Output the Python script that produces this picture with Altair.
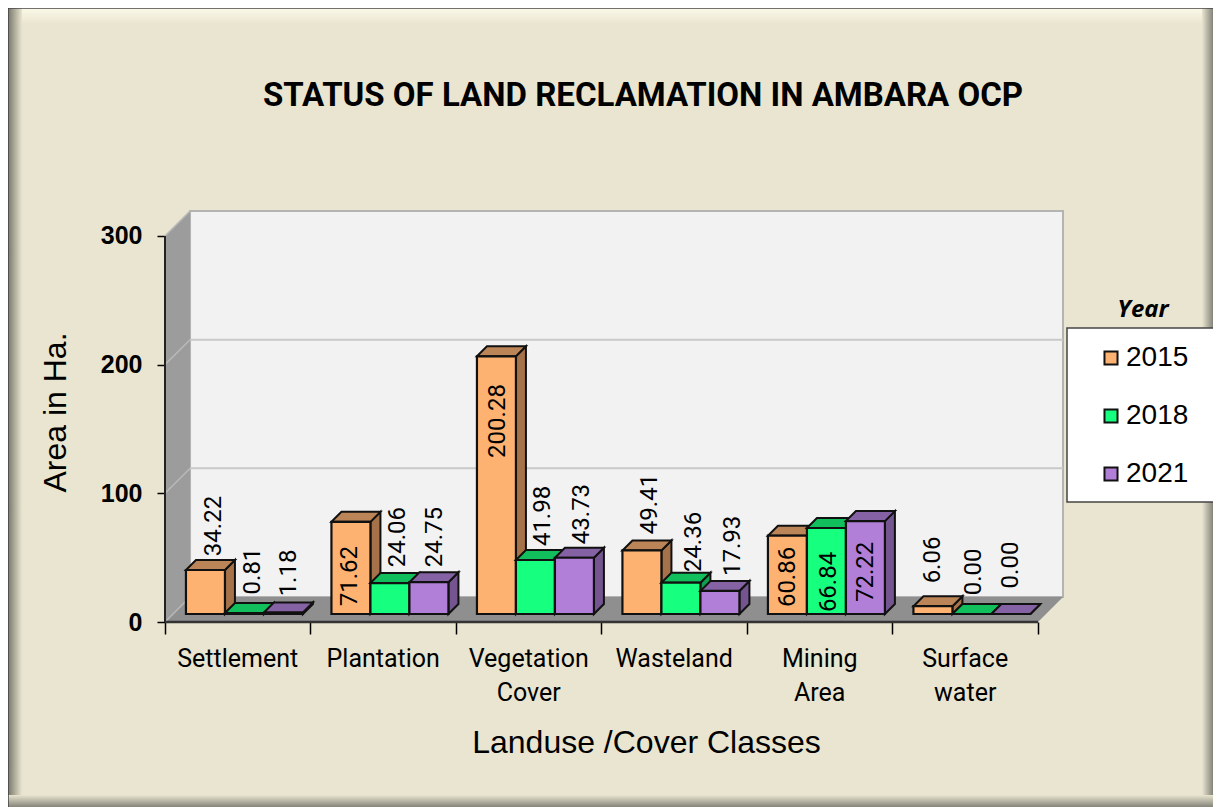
import altair as alt
import pandas as pd

categories = ["Settlement", "Plantation", "Vegetation\nCover", "Wasteland", "Mining\nArea", "Surface\nwater"]
years = ["2015", "2018", "2021"]
v2015 = [34.22, 71.62, 200.28, 49.41, 60.86, 6.06]
v2018 = [0.81, 24.06, 41.98, 24.36, 66.84, 0.00]
v2021 = [1.18, 24.75, 43.73, 17.93, 72.22, 0.00]
series = [v2015, v2018, v2021]

# label anchors in axis units
label_x = [[0.337, 1.271, 2.289, 3.333, 4.282, 5.278],
           [0.605, 1.601, 2.598, 3.636, 4.564, 5.560],
           [0.852, 1.856, 2.866, 3.904, 4.818, 5.814]]
label_y = [[74.6, 35.7, 156.2, 91.7, 35.0, 48.2],
           [39.6, 66.0, 82.4, 62.2, 31.1, 38.9],
           [38.1, 66.0, 83.9, 59.1, 38.9, 44.3]]

front_colors = ["#fdb271", "#17ff7f", "#b17fd8"]
top_colors = ["#bc8557", "#12bf5d", "#8562a3"]
side_colors = ["#a5724a", "#0f9f4e", "#745590"]

NARROW = "Roboto"
SANS = "Liberation Sans"
BEIGE = "#e9e5d0"

# layout in axis units
GAP, BAR = 0.144, 0.268
BAR_DX, BAR_DY = 0.0687, 7.77
BASE = 6.2
WALL_DX, WALL_DY = 0.172, 19.4
XMAX, YMAX = 6.172, 319.4

xs = alt.Scale(domain=[0, XMAX], nice=False, zero=False)
ys = alt.Scale(domain=[0, YMAX], nice=False, zero=False)
x_axis = alt.Axis(
    values=[0, 1, 2, 3, 4, 5, 6], labels=False, grid=False, domain=False, tickColor="black",
    tickSize=12, tickWidth=1.5, title="Landuse /Cover Classes", titleFont=SANS, titleFontSize=32,
    titleFontWeight="normal", titleColor="black", titleX=481, titleY=130, titleAlign="center",
    titleBaseline="alphabetic")
y_axis = alt.Axis(
    values=[0, 100, 200, 300], format="d", grid=False, domain=False, tickColor="black", tickSize=8,
    tickWidth=1.5, labelFont=SANS, labelFontWeight="bold", labelFontSize=25, labelColor="black",
    labelPadding=15, title="Area in Ha.", titleFont=SANS, titleFontSize=32, titleFontWeight="normal",
    titleColor="black", titleX=-110, titleY=201, titleAngle=270, titleAlign="center",
    titleBaseline="middle")
X = alt.X("x:Q", scale=xs, axis=x_axis)
Y = alt.Y("y:Q", scale=ys, axis=y_axis)

one = pd.DataFrame({"a": [0]})

def band(x, x2, y, y2, c1, c2, vertical):
    grad = alt.Gradient(gradient="linear",
                        stops=[alt.GradientStop(color=c1, offset=0), alt.GradientStop(color=c2, offset=1)],
                        x1=0, y1=0, x2=0 if vertical else 1, y2=1 if vertical else 0)
    return alt.Chart(one).mark_rect(color=grad).encode(
        x=alt.value(x), x2=alt.value(x2), y=alt.value(y), y2=alt.value(y2))

FL, FR, FT, FB = -157, 1048, -203, 596
frame = [
    band(FL, FR, FT, FT + 16, "#fbf9e8", BEIGE, True),
    band(FL, FL + 14, FT, FB, "#77766a", BEIGE, False),
    band(FR - 11, FR, FT, FB, BEIGE, "#85847a", False),
    band(FL, FR, FB - 12, FB, BEIGE, "#85847a", True),
    alt.Chart(one).mark_rule(color="#444444", strokeWidth=1.5).encode(
        x=alt.value(FL), x2=alt.value(FR), y=alt.value(FT), y2=alt.value(FT)),
    alt.Chart(one).mark_rule(color="#444444", strokeWidth=1.5).encode(
        x=alt.value(FL), x2=alt.value(FL), y=alt.value(FT), y2=alt.value(FB)),
]

def area(rows, fill, stroke=None, width=0):
    kw = {"stroke": stroke, "strokeWidth": width} if stroke else {}
    return alt.Chart(pd.DataFrame(rows)).mark_area(color=fill, orient="vertical", **kw).encode(
        x=X, y=Y, y2="y2:Q", detail="id:N")

left_wall = area([
    {"id": 0, "x": 0, "y": 0, "y2": 300},
    {"id": 0, "x": WALL_DX, "y": WALL_DY, "y2": 300 + WALL_DY}], "#9c9c9c")
floor = area([
    {"id": 0, "x": 0, "y": 0, "y2": 0},
    {"id": 0, "x": WALL_DX, "y": 0, "y2": WALL_DY},
    {"id": 0, "x": 6, "y": 0, "y2": WALL_DY},
    {"id": 0, "x": 6 + WALL_DX, "y": WALL_DY, "y2": WALL_DY}], "#8f8f8f")
back = alt.Chart(pd.DataFrame({"x": [WALL_DX], "x2": [XMAX], "y": [WALL_DY], "y2": [YMAX]})).mark_rect(
    color="#f2f2f2", stroke="#b4b4b4", strokeWidth=2).encode(x=X, x2="x2:Q", y=Y, y2="y2:Q")

grid = alt.Chart(pd.DataFrame({"y": [100 + WALL_DY, 200 + WALL_DY], "x": [WALL_DX] * 2, "x2": [XMAX] * 2})).mark_rule(
    color="#c9c9c9", strokeWidth=2).encode(x=X, x2="x2:Q", y=Y)
wall_grid = alt.Chart(pd.DataFrame({"v": [0, 100, 200, 300]}).assign(
    x=0.0, x2=WALL_DX, y=lambda d: d.v, y2=lambda d: d.v + WALL_DY)).mark_rule(
    color="#b8b8b8", strokeWidth=1.5).encode(x=X, x2="x2:Q", y=Y, y2="y2:Q")

y_line = alt.Chart(pd.DataFrame({"x": [0.0], "y": [0.0], "y2": [300.0]})).mark_rule(
    color="#222222", strokeWidth=2).encode(x=X, y=Y, y2="y2:Q")
x_line = alt.Chart(pd.DataFrame({"x": [0.0], "x2": [6.0], "y": [0.0]})).mark_rule(
    color="#333333", strokeWidth=2.5).encode(x=X, x2="x2:Q", y=Y)

bar_layers = []
for s, vals in enumerate(series):
    side, top, front = [], [], []
    for i, v in enumerate(vals):
        x0 = i + GAP + s * BAR
        x1 = x0 + BAR
        t = BASE + v
        side += [{"id": i, "x": x1, "y": BASE, "y2": t},
                 {"id": i, "x": x1 + BAR_DX, "y": BASE + BAR_DY, "y2": t + BAR_DY}]
        top += [{"id": i, "x": x0, "y": t, "y2": t},
                {"id": i, "x": x0 + BAR_DX, "y": t, "y2": t + BAR_DY},
                {"id": i, "x": x1, "y": t, "y2": t + BAR_DY},
                {"id": i, "x": x1 + BAR_DX, "y": t + BAR_DY, "y2": t + BAR_DY}]
        front.append({"Year": years[s], "x": x0, "x2": x1, "y": BASE, "y2": t})
    bar_layers.append(area(side, side_colors[s], "#111111", 2))
    bar_layers.append(area(top, top_colors[s], "#111111", 2))
    bar_layers.append(alt.Chart(pd.DataFrame(front)).mark_rect(stroke="#111111", strokeWidth=2.2).encode(
        x=X, x2="x2:Q", y=Y, y2="y2:Q",
        color=alt.Color("Year:N", scale=alt.Scale(domain=years, range=front_colors), legend=alt.Legend(
            title="Year", orient="none", legendX=932, legendY=87, padding=0,
            titleFont="Open Sans", titleFontSize=24, titleFontStyle="italic", titleFontWeight="bold",
            titleColor="black", titleAnchor="middle", titlePadding=22,
            symbolType="square", symbolSize=170, symbolStrokeColor="#111111", symbolStrokeWidth=2,
            symbolOpacity=1, labelFont=SANS, labelFontSize=28, labelColor="black", labelOffset=1,
            rowPadding=30))))

labels = pd.DataFrame([
    {"x": label_x[s][i], "y": label_y[s][i], "t": f"{series[s][i]:.2f}"}
    for s in range(3) for i in range(6)])
label_layer = alt.Chart(labels).mark_text(angle=270, align="center", baseline="middle", font=NARROW,
                                          fontSize=24, color="black").encode(x=X, y=Y, text="t:N")

cats = alt.Chart(pd.DataFrame({"x": [i + 0.5 for i in range(6)], "t": categories})).mark_text(
    align="center", baseline="top", font=NARROW, fontSize=25, lineBreak="\n", lineHeight=34, color="black"
).encode(x=X, y=alt.value(436), text="t:N")

title = alt.Chart(pd.DataFrame({"t": ["STATUS OF LAND RECLAMATION IN AMBARA  OCP"]})).mark_text(
    align="center", baseline="middle", font=NARROW, fontWeight="bold", fontSize=33, color="black"
).encode(x=alt.value(478), y=alt.value(-115), text="t:N")

legend_box = alt.Chart(one).mark_rect(fill="white", stroke="#444444", strokeWidth=1.5).encode(
    x=alt.value(902), x2=alt.value(1070), y=alt.value(117), y2=alt.value(291))

chart = alt.layer(
    *frame, legend_box, back, left_wall, floor, grid, wall_grid, y_line, x_line,
    *bar_layers, label_layer, cats, title
).resolve_scale(color="shared").properties(
    width=898, height=411, autosize="none",
    padding={"left": 157, "top": 203, "right": 150, "bottom": 185},
    background=BEIGE,
).configure_view(stroke=None)

chart.save("out.html", embed_options={"renderer": "svg", "actions": False})
